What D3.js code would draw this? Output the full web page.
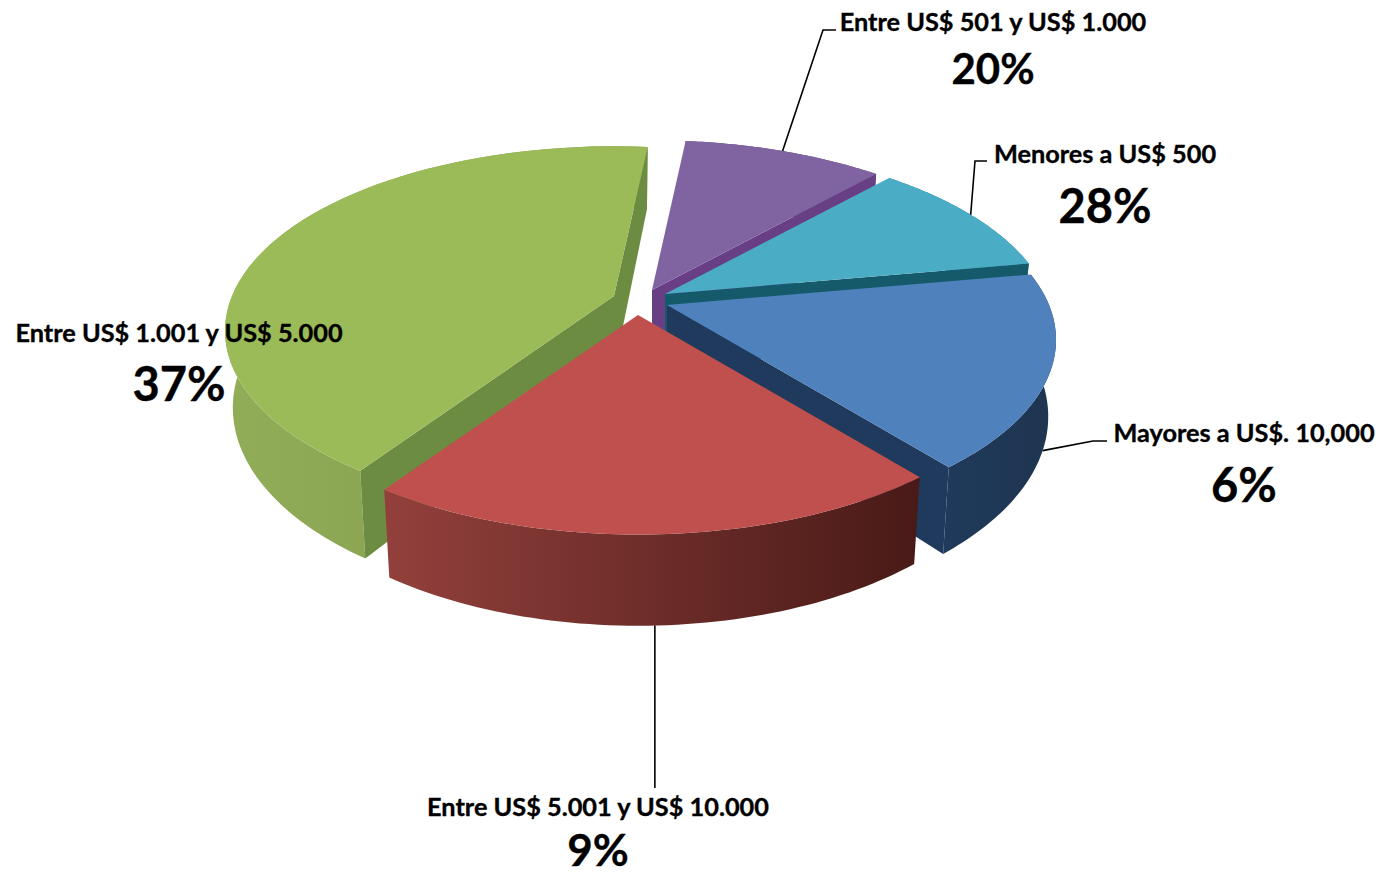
<!DOCTYPE html>
<html><head><meta charset="utf-8">
<script src="https://cdn.jsdelivr.net/npm/d3@7"></script>
<style>html,body{margin:0;padding:0;background:#fff}svg{display:block}text{font-family:Lato,"Open Sans",sans-serif;font-weight:700;fill:#000;stroke:#000;stroke-width:.35px}</style>
</head><body><svg id="c" width="1386" height="877"></svg>
<script>
// Data
const categories = ["Entre US$ 501 y US$ 1.000","Menores a US$ 500","Mayores a US$. 10,000","Entre US$ 5.001 y US$ 10.000","Entre US$ 1.001 y US$ 5.000"];
const labelPercents = ["20%","28%","6%","9%","37%"];
// drawn share of each slice (the drawn sizes differ from the printed labels in the source)
const sliceShares = [10,10.5,17,20.3,42.2];

// Styles
const topColors = ["#8064a2","#4bacc6","#4f81bd","#c0504d","#9bbb59"];
const radialColors = ["#683f85","#155a6b","#1f3a5c","#7a2f2d","#6c8c42"];
const wallLeft = ["#5f4a7a","#2f7f94","#1f3a5c","#93403c","#92ad58"];
const wallRight = ["#5f4a7a","#2f7f94","#1f3550","#481a17","#7f9849"];
const percentSize = [42,47,47,44,47];

// Layout
const center = [650,303], R = 382, tiltK = 178, persp = 0.189, depth = 74, bottomScale = 0.98;
const startDeg = 6;
const apexOffset = [[2,-13],[15,-9],[17,2],[-12,12],[-36,-7]];
const drawOrder = [0,4,1,2,3];
const labelPos = [[993,21,993,68],[1105,153,1105,205],[1244,432,1244,484],[598,806,598,849],[179,332,179,383]];
const leaderEnd = [[[823,30],[836,30]],[[975,161],[987,161]],[[1093,441],[1107,441]],[[null,788]],[]];
const leaderFrac = [0.49,0.5,0.5,0.505,0];
const leaderOnBase = [false,false,true,true,false];

const svg = d3.select("#c");
const defs = svg.append("defs");
const rad = d3.scaleLinear().domain([0,360]).range([0,2*Math.PI]);
const arcs = d3.pie().sort(null).startAngle(rad(startDeg)).endAngle(rad(startDeg+360))(sliceShares);
const line = d3.line();

function proj(apex,a,r,drop,sc){
  const u=Math.sin(a), v=-Math.cos(a)*r, s=1/(1-persp*v);
  return [apex[0]+R*r*u*s*sc, apex[1]+tiltK*v*s+drop*s];
}
const grid = (a0,a1)=>d3.range(0,61).map(i=>a0+(a1-a0)*i/60);

const apexes = apexOffset.map(o=>[center[0]+o[0],center[1]+o[1]]);
const g = svg.append("g");

drawOrder.forEach(i=>{
  const d=arcs[i], ap=apexes[i], as=grid(d.startAngle,d.endAngle);
  const topRim=as.map(a=>proj(ap,a,1,0,1));
  const botRim=as.map(a=>proj(ap,a,1,depth,bottomScale)).reverse();
  const apBot=[ap[0],ap[1]+depth];
  // outer wall
  const xs=topRim.concat(botRim).map(p=>p[0]);
  const gid="wall"+i;
  const gr=defs.append("linearGradient").attr("id",gid).attr("gradientUnits","userSpaceOnUse")
    .attr("x1",d3.min(xs)).attr("x2",d3.max(xs)).attr("y1",0).attr("y2",0);
  gr.append("stop").attr("offset",0).attr("stop-color",wallLeft[i]);
  gr.append("stop").attr("offset",1).attr("stop-color",wallRight[i]);
  g.append("path").attr("fill",`url(#${gid})`).attr("d",line(topRim.concat(botRim))+"Z");
  // radial walls, only those that face the viewer
  if(Math.sin(d.startAngle)<0) g.append("path").attr("fill",radialColors[i])
      .attr("d",line([ap,proj(ap,d.startAngle,1,0,1),proj(ap,d.startAngle,1,depth,bottomScale),apBot])+"Z");
  if(Math.sin(d.endAngle)>0) g.append("path").attr("fill",radialColors[i])
      .attr("d",line([ap,proj(ap,d.endAngle,1,0,1),proj(ap,d.endAngle,1,depth,bottomScale),apBot])+"Z");
  // top face
  g.append("path").attr("fill",topColors[i]).attr("d",line([ap].concat(topRim))+"Z");
});

// leaders
categories.forEach((c,i)=>{
  if(!leaderEnd[i].length) return;
  const d=arcs[i], a=d.startAngle+(d.endAngle-d.startAngle)*leaderFrac[i];
  const start = leaderOnBase[i] ? proj(apexes[i],a,1,depth,bottomScale) : proj(apexes[i],a,1,0,1);
  const rest = leaderEnd[i].map(p=>[p[0]===null?start[0]:p[0],p[1]]);
  svg.append("path").attr("fill","none").attr("stroke","#000").attr("stroke-width",1.6)
    .attr("d",line([start].concat(rest)));
});

// labels
categories.forEach((c,i)=>{
  const p=labelPos[i];
  svg.append("text").attr("x",p[0]).attr("y",p[1]).attr("text-anchor","middle").attr("dominant-baseline","central")
    .attr("font-size",25.3).text(c);
  svg.append("text").attr("x",p[2]).attr("y",p[3]).attr("text-anchor","middle").attr("dominant-baseline","central")
    .attr("font-size",percentSize[i]).text(labelPercents[i]);
});
</script></body></html>
